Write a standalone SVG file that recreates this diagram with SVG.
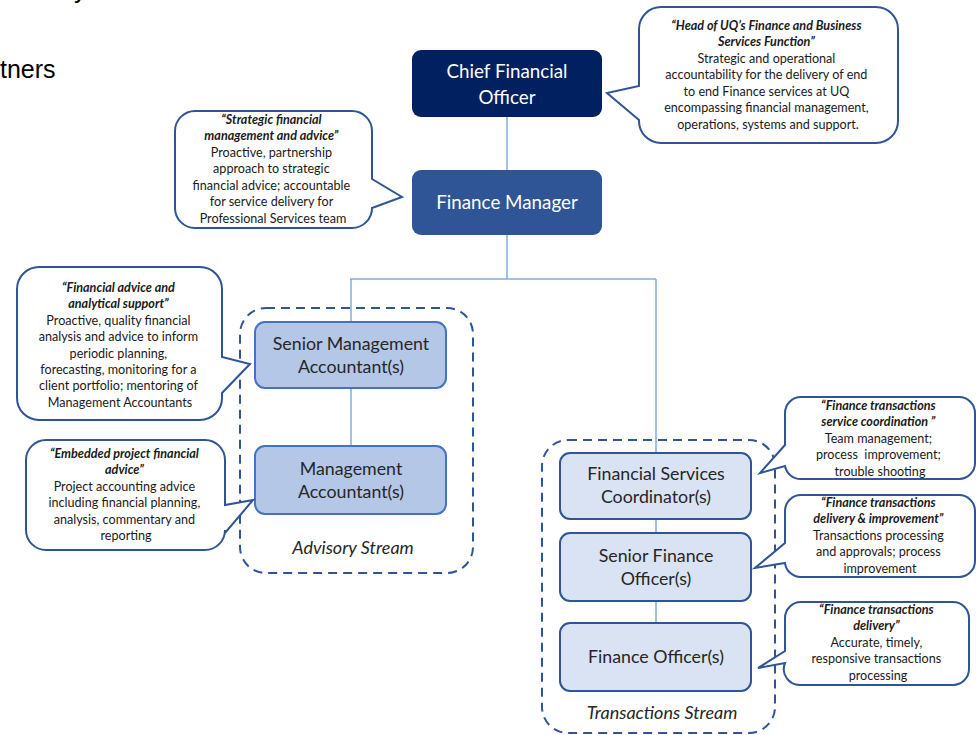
<svg xmlns="http://www.w3.org/2000/svg" width="976" height="735" viewBox="0 0 976 735">
  <style>
    .bg { fill: #ffffff; }
    .head { font-family: "Liberation Sans", Arial, sans-serif; font-size: 25px; fill: #000000; }
    .node-dark { fill: #002060; }
    .node-mid { fill: #2F5597; }
    .node-adv { fill: #B4C7E7; stroke: #4472C4; stroke-width: 2; }
    .node-trn { fill: #DAE3F3; stroke: #2F5597; stroke-width: 2; }
    .lbl-w { font-family: Lato, "Noto Sans", sans-serif; font-size: 18.8px; fill: #ffffff; text-anchor: middle; }
    .lbl { font-family: Lato, "Noto Sans", sans-serif; font-size: 17.8px; fill: #262626; text-anchor: middle; }
    .stream { font-family: Lato, "Noto Sans", sans-serif; font-size: 18px; font-style: italic; fill: #262626; text-anchor: middle; }
    .group { fill: none; stroke: #2F5597; stroke-width: 2; stroke-dasharray: 9 6; }
    .link { fill: none; stroke: #7EADDF; stroke-width: 1.5; }
    .callout { fill: #ffffff; stroke: #2F5597; stroke-width: 2; stroke-linejoin: miter; }
    .ct { font-family: Lato, "Noto Sans", sans-serif; font-size: 12.6px; fill: #1a1a1a; text-anchor: middle; }
    .ct .t { font-weight: bold; font-style: italic; }
  </style>

  <rect class="bg" x="0" y="0" width="976" height="735"/>

  <!-- page heading fragments at the top-left edge -->
  <text class="head" x="74" y="-2">y</text>
  <text class="head" x="0" y="78">tners</text>

  <!-- stream groupings -->
  <rect id="advisory-stream" class="group" x="240" y="308" width="233" height="265" rx="26"/>
  <rect id="transactions-stream" class="group" x="542" y="440" width="233" height="293" rx="26"/>
  <text class="stream" x="353" y="554">Advisory Stream</text>
  <text class="stream" x="662" y="719">Transactions Stream</text>

  <!-- reporting lines -->
  <g id="connectors">
    <path class="link" d="M507 117 V170"/>
    <path class="link" d="M507 235 V279"/>
    <path class="link" d="M350 279 H656"/>
    <path class="link" d="M351 279 V322"/>
    <path class="link" d="M351 388 V446"/>
    <path class="link" d="M656 279 V453"/>
    <path class="link" d="M656 519 V533"/>
    <path class="link" d="M656 601 V623"/>
  </g>

  <!-- positions -->
  <g id="cfo">
    <rect class="node-dark" x="412" y="50" width="190" height="67" rx="9"/>
    <text class="lbl-w" x="507" y="78">Chief Financial</text>
    <text class="lbl-w" x="507" y="104">Officer</text>
  </g>
  <g id="finance-manager">
    <rect class="node-mid" x="412" y="170" width="190" height="65" rx="9"/>
    <text class="lbl-w" x="507" y="209">Finance Manager</text>
  </g>
  <g id="senior-management-accountant">
    <rect class="node-adv" x="255" y="322" width="191" height="66" rx="10"/>
    <text class="lbl" x="351" y="350">Senior Management</text>
    <text class="lbl" x="351" y="373">Accountant(s)</text>
  </g>
  <g id="management-accountant">
    <rect class="node-adv" x="255" y="446" width="191" height="68" rx="10"/>
    <text class="lbl" x="351" y="475">Management</text>
    <text class="lbl" x="351" y="498">Accountant(s)</text>
  </g>
  <g id="financial-services-coordinator">
    <rect class="node-trn" x="560" y="453" width="191" height="66" rx="10"/>
    <text class="lbl" x="656" y="480">Financial Services</text>
    <text class="lbl" x="656" y="503">Coordinator(s)</text>
  </g>
  <g id="senior-finance-officer">
    <rect class="node-trn" x="560" y="533" width="191" height="68" rx="10"/>
    <text class="lbl" x="656" y="562">Senior Finance</text>
    <text class="lbl" x="656" y="585">Officer(s)</text>
  </g>
  <g id="finance-officer">
    <rect class="node-trn" x="560" y="623" width="191" height="68" rx="10"/>
    <text class="lbl" x="656" y="663">Finance Officer(s)</text>
  </g>

  <!-- role description callouts -->
  <g id="note-cfo">
    <path class="callout" d="M661 7 H876 A22 22 0 0 1 898 29 V121 A22 22 0 0 1 876 143 H661 A22 22 0 0 1 639 121 V120 L607 93 L639 86 V29 A22 22 0 0 1 661 7 Z"/>
    <text class="ct">
      <tspan class="t" x="768" y="30">“Head of UQ’s Finance and Business</tspan>
      <tspan class="t" x="768" y="46">Services Function”</tspan>
      <tspan x="768" y="63">Strategic and operational</tspan>
      <tspan x="768" y="79">accountability for the delivery of end</tspan>
      <tspan x="768" y="96">to end Finance services at UQ</tspan>
      <tspan x="768" y="112">encompassing financial management,</tspan>
      <tspan x="768" y="129">operations, systems and support.</tspan>
    </text>
  </g>
  <g id="note-finance-manager">
    <path class="callout" d="M195 111 H352 A20 20 0 0 1 372 131 V179 L402 197 L372 208 V208 A20 20 0 0 1 352 228 H195 A20 20 0 0 1 175 208 V131 A20 20 0 0 1 195 111 Z"/>
    <text class="ct">
      <tspan class="t" x="273" y="124">“Strategic financial</tspan>
      <tspan class="t" x="273" y="140">management and advice”</tspan>
      <tspan x="273" y="157">Proactive, partnership</tspan>
      <tspan x="273" y="173">approach to strategic</tspan>
      <tspan x="273" y="190">financial advice; accountable</tspan>
      <tspan x="273" y="206">for service delivery for</tspan>
      <tspan x="273" y="223">Professional Services team</tspan>
    </text>
  </g>
  <g id="note-senior-management-accountant">
    <path class="callout" d="M39 267 H200 A22 22 0 0 1 222 289 V357 L250 364 L222 393 V398 A22 22 0 0 1 200 420 H39 A22 22 0 0 1 17 398 V289 A22 22 0 0 1 39 267 Z"/>
    <text class="ct">
      <tspan class="t" x="120" y="292">“Financial advice and</tspan>
      <tspan class="t" x="120" y="308">analytical support”</tspan>
      <tspan x="120" y="325">Proactive, quality financial</tspan>
      <tspan x="120" y="341">analysis and advice to inform</tspan>
      <tspan x="120" y="358">periodic planning,</tspan>
      <tspan x="120" y="374">forecasting, monitoring for a</tspan>
      <tspan x="120" y="390">client portfolio; mentoring of</tspan>
      <tspan x="120" y="407">Management Accountants</tspan>
    </text>
  </g>
  <g id="note-management-accountant">
    <path class="callout" d="M46 440 H205 A20 20 0 0 1 225 460 V505 L253 500 L225 533 V530 A20 20 0 0 1 205 550 H46 A20 20 0 0 1 26 530 V460 A20 20 0 0 1 46 440 Z"/>
    <text class="ct">
      <tspan class="t" x="126" y="458">“Embedded project financial</tspan>
      <tspan class="t" x="126" y="474">advice”</tspan>
      <tspan x="126" y="491">Project accounting advice</tspan>
      <tspan x="126" y="507">including financial planning,</tspan>
      <tspan x="126" y="524">analysis, commentary and</tspan>
      <tspan x="126" y="540">reporting</tspan>
    </text>
  </g>
  <g id="note-financial-services-coordinator">
    <path class="callout" d="M801 397 H959 A16 16 0 0 1 975 413 V463 A16 16 0 0 1 959 479 H801 A16 16 0 0 1 785 466 L760 473 L785 445 V413 A16 16 0 0 1 801 397 Z"/>
    <text class="ct">
      <tspan class="t" x="880" y="410">“Finance transactions</tspan>
      <tspan class="t" x="880" y="426">service coordination ”</tspan>
      <tspan x="880" y="443">Team management;</tspan>
      <tspan x="880" y="459" xml:space="preserve">process  improvement;</tspan>
      <tspan x="880" y="476">trouble shooting</tspan>
    </text>
  </g>
  <g id="note-senior-finance-officer">
    <path class="callout" d="M801 495 H959 A16 16 0 0 1 975 511 V561 A16 16 0 0 1 959 577 H801 A16 16 0 0 1 785 563 L755 568 L785 543 V511 A16 16 0 0 1 801 495 Z"/>
    <text class="ct">
      <tspan class="t" x="880" y="507">“Finance transactions</tspan>
      <tspan class="t" x="880" y="523">delivery &amp; improvement”</tspan>
      <tspan x="880" y="540">Transactions processing</tspan>
      <tspan x="880" y="556">and approvals; process</tspan>
      <tspan x="880" y="573">improvement</tspan>
    </text>
  </g>
  <g id="note-finance-officer">
    <path class="callout" d="M801 602 H953 A16 16 0 0 1 969 618 V669 A16 16 0 0 1 953 685 H801 A16 16 0 0 1 785 663 L758 668 L785 651 V618 A16 16 0 0 1 801 602 Z"/>
    <text class="ct">
      <tspan class="t" x="878" y="614">“Finance transactions</tspan>
      <tspan class="t" x="878" y="630">delivery”</tspan>
      <tspan x="878" y="647">Accurate, timely,</tspan>
      <tspan x="878" y="663">responsive transactions</tspan>
      <tspan x="878" y="680">processing</tspan>
    </text>
  </g>
</svg>
